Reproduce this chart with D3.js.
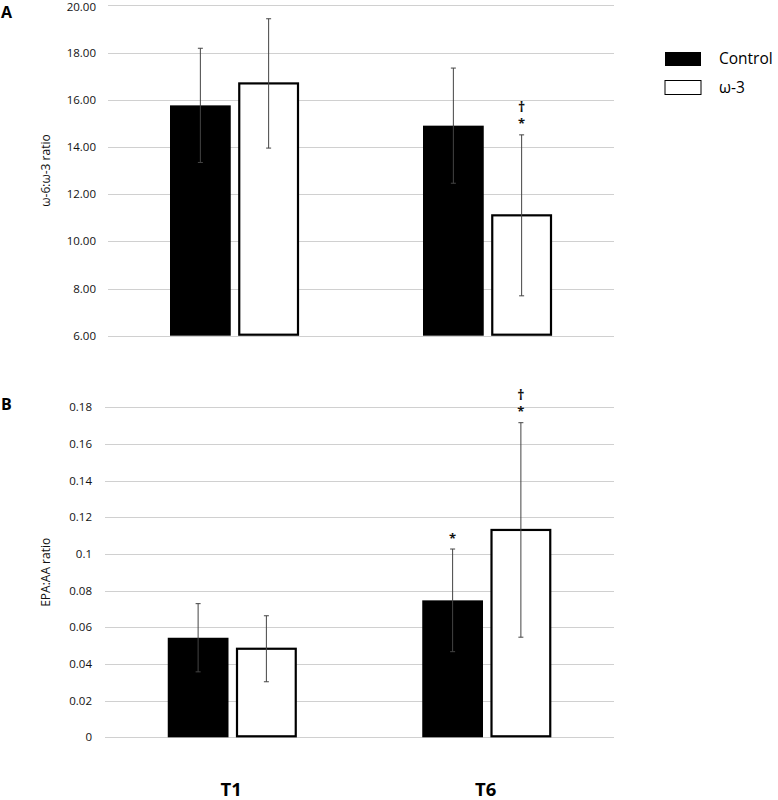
<!DOCTYPE html>
<html>
<head>
<meta charset="utf-8">
<script src="https://cdn.jsdelivr.net/npm/d3@7"></script>
<style>
  body { margin: 0; background: #fff; }
  svg { display: block; }
  text { font-family: "Open Sans", "Liberation Sans", sans-serif; }
</style>
</head>
<body>
<svg id="chart" width="778" height="800"></svg>
<script>
// ---------- DATA ----------
const categories = ["T1", "T6"];
const seriesNames = ["Control", "ω-3"];

// Panel A: ω-6:ω-3 ratio
const ratioA_control = [15.76, 14.90];
const ratioA_omega3  = [16.69, 11.10];
const errA_control   = [2.42, 2.44];
const errA_omega3    = [2.74, 3.41];
const ticksA = [6, 8, 10, 12, 14, 16, 18, 20];
const labelsA = ["6.00", "8.00", "10.00", "12.00", "14.00", "16.00", "18.00", "20.00"];

// Panel B: EPA:AA ratio
const ratioB_control = [0.0543, 0.0747];
const ratioB_omega3  = [0.0483, 0.1131];
const errB_control   = [0.0186, 0.0280];
const errB_omega3    = [0.0180, 0.0585];
const ticksB = [0, 0.02, 0.04, 0.06, 0.08, 0.1, 0.12, 0.14, 0.16, 0.18];
const labelsB = ["0", "0.02", "0.04", "0.06", "0.08", "0.1", "0.12", "0.14", "0.16", "0.18"];

// significance marks: [category index, series index, symbols bottom-to-top]
const sigA = [[1, 1, ["*", "†"]]];
const sigB = [[1, 0, ["*"]], [1, 1, ["*", "†"]]];

// ---------- DRAW ----------
const svg = d3.select("#chart");
const fills = ["#000000", "#ffffff"];

function panel(opts) {
  const { left, right, top, bottom, domain, ticks, labels, control, omega3, errC, errO, sig, letter, letterY, title, labelRight } = opts;
  const g = svg.append("g");
  const x = d3.scaleBand().domain(categories).range([left, right]);
  const y = d3.scaleLinear().domain(domain).range([bottom, top]);
  const xs = d3.scaleBand().domain(seriesNames).range([0, 129]).paddingInner(0.11);

  // gridlines
  g.selectAll("line.grid").data(ticks).join("line")
    .attr("x1", left).attr("x2", right)
    .attr("y1", d => Math.round(y(d)) + 0.5).attr("y2", d => Math.round(y(d)) + 0.5)
    .attr("stroke", "#d0d0d0").attr("stroke-width", 1.2);

  // tick labels
  g.selectAll("text.tick").data(ticks).join("text")
    .attr("x", labelRight).attr("y", d => Math.max(y(d), 6.5)).attr("dy", "0.35em")
    .attr("text-anchor", "end").attr("font-size", 11.5).attr("fill", "#111")
    .text((d, i) => labels[i]);

  // y title
  g.append("text")
    .attr("transform", `translate(46,${(top + bottom) / 2}) rotate(-90)`)
    .attr("text-anchor", "middle").attr("dy", "0.35em")
    .attr("font-size", 12).attr("fill", "#111").text(title);

  // panel letter
  g.append("text").attr("x", 1).attr("y", letterY)
    .attr("font-size", 16).attr("font-weight", "bold").attr("fill", "#000").text(letter);

  const vals = [control, omega3];
  const errs = [errC, errO];
  const data = [];
  categories.forEach((c, ci) => {
    seriesNames.forEach((s, si) => {
      data.push({ c, ci, s, si, v: vals[si][ci], e: errs[si][ci] });
    });
  });
  const bx = d => x(d.c) + x.bandwidth() / 2 - 64.5 + xs(d.s);

  // bars
  g.selectAll("rect.bar").data(data).join("rect")
    .attr("x", d => bx(d) + (d.si === 1 ? 1 : 0))
    .attr("width", d => xs.bandwidth() - (d.si === 1 ? 2 : 0))
    .attr("y", d => y(d.v))
    .attr("height", d => y(domain[0]) - y(d.v) - (d.si === 1 ? 1 : 0))
    .attr("fill", d => fills[d.si])
    .attr("stroke", "#000")
    .attr("stroke-width", d => d.si === 1 ? 2.2 : 0);

  // error bars
  const cx = d => bx(d) + xs.bandwidth() / 2;
  const eg = g.selectAll("g.err").data(data).join("g").attr("stroke", "#444").attr("stroke-width", 1);
  eg.append("line").attr("x1", cx).attr("x2", cx)
    .attr("y1", d => y(d.v - d.e)).attr("y2", d => y(d.v + d.e));
  eg.append("line").attr("x1", d => cx(d) - 2.5).attr("x2", d => cx(d) + 2.5)
    .attr("y1", d => y(d.v + d.e)).attr("y2", d => y(d.v + d.e));
  eg.append("line").attr("x1", d => cx(d) - 2.5).attr("x2", d => cx(d) + 2.5)
    .attr("y1", d => y(d.v - d.e)).attr("y2", d => y(d.v - d.e));

  // significance marks
  sig.forEach(([ci, si, syms]) => {
    const d = data.find(k => k.ci === ci && k.si === si);
    syms.forEach((sym, k) => {
      g.append("text")
        .attr("x", cx(d))
        .attr("y", y(d.v + d.e) - 11 - k * 17)
        .attr("dy", "0.35em")
        .attr("text-anchor", "middle")
        .attr("font-size", sym === "†" ? 14 : 13)
        .attr("font-weight", "bold")
        .attr("font-family", "DejaVu Sans, sans-serif")
        .attr("fill", "#111")
        .text(sym);
    });
  });

  return x;
}

panel({
  left: 108, right: 614, top: 5.3, bottom: 335.7, domain: [6, 20],
  ticks: ticksA, labels: labelsA, control: ratioA_control, omega3: ratioA_omega3,
  errC: errA_control, errO: errA_omega3, sig: sigA,
  letter: "A", letterY: 18, title: "ω-6:ω-3 ratio", labelRight: 96
});

const xB = panel({
  left: 105, right: 614, top: 407.3, bottom: 737.3, domain: [0, 0.18],
  ticks: ticksB, labels: labelsB, control: ratioB_control, omega3: ratioB_omega3,
  errC: errB_control, errO: errB_omega3, sig: sigB,
  letter: "B", letterY: 410, title: "EPA:AA ratio", labelRight: 92
});

// category labels
svg.selectAll("text.cat").data(categories).join("text")
  .attr("x", d => xB(d) + xB.bandwidth() / 2 - 1)
  .attr("y", 796)
  .attr("text-anchor", "middle").attr("font-size", 18.5).attr("font-weight", "bold")
  .attr("fill", "#000").text(d => d);

// legend
const leg = svg.append("g");
seriesNames.forEach((s, i) => {
  leg.append("rect")
    .attr("x", 665).attr("y", 52 + i * 28.5)
    .attr("width", 36).attr("height", 14)
    .attr("fill", fills[i]).attr("stroke", i === 1 ? "#000" : "none").attr("stroke-width", 1);
  leg.append("text")
    .attr("x", 719).attr("y", 59 + i * 28.5).attr("dy", "0.35em")
    .attr("font-size", 15.5).attr("fill", "#000").text(s);
});
</script>
</body>
</html>
